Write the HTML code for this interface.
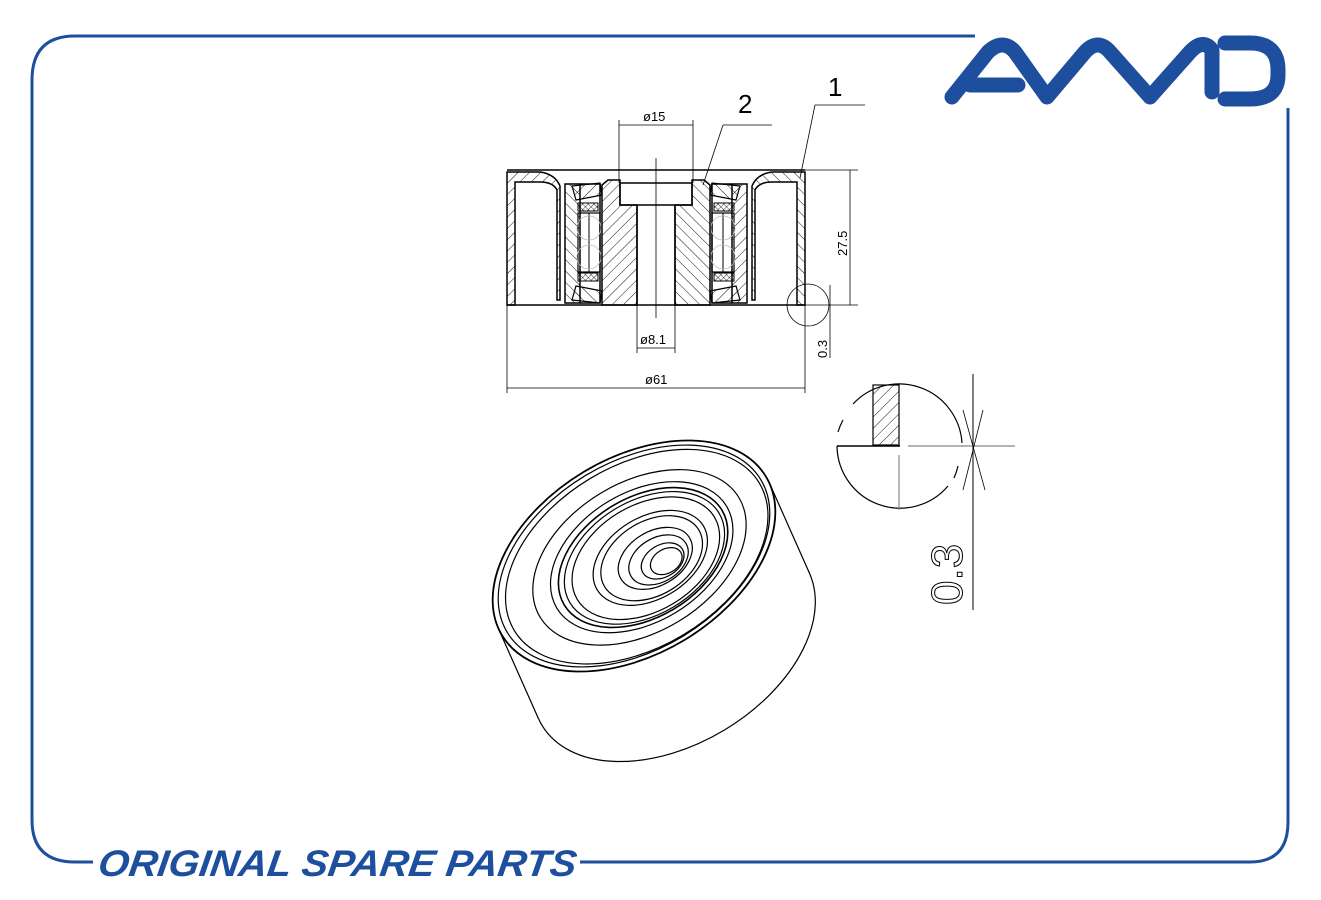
<!DOCTYPE html>
<html><head><meta charset="utf-8"><style>
html,body{margin:0;padding:0;background:#fff;}
svg{display:block;}
</style></head><body>
<svg width="1321" height="900" viewBox="0 0 1321 900" xmlns="http://www.w3.org/2000/svg">
<defs>
<pattern id="h1" patternUnits="userSpaceOnUse" width="8" height="8" patternTransform="rotate(45)"><line x1="0" y1="0" x2="0" y2="8" stroke="#000" stroke-width="0.9"/></pattern>
<pattern id="h2" patternUnits="userSpaceOnUse" width="8" height="8" patternTransform="rotate(-45)"><line x1="0" y1="0" x2="0" y2="8" stroke="#000" stroke-width="0.9"/></pattern>
<pattern id="hx" patternUnits="userSpaceOnUse" width="4" height="4" patternTransform="rotate(45)"><path d="M0 0V4M0 0H4" stroke="#000" stroke-width="0.8"/></pattern>
<g id="half">
  <path d="M507 172 H540 Q555 174 560 186 V300 H557 V190 Q553 182 540 182 H515 V305 H507 Z" fill="url(#h1)" stroke="#000" stroke-width="1.5"/>
  <path d="M565 184 H580 V303 H565 Z" fill="url(#h2)" stroke="#000" stroke-width="1.5"/>
  <path d="M580 184 H600 V303 H580" fill="none" stroke="#000" stroke-width="1.5"/>
  <path d="M572 186 L600 183 L602 195 L576 200 Z" fill="url(#h1)" stroke="#000" stroke-width="1.2"/>
  <path d="M572 300 L600 303 L602 291 L576 286 Z" fill="url(#h2)" stroke="#000" stroke-width="1.2"/>
  <rect x="578" y="203" width="20" height="8" fill="url(#hx)" stroke="#000" stroke-width="1"/>
  <rect x="578" y="273" width="20" height="8" fill="url(#hx)" stroke="#000" stroke-width="1"/>
  <rect x="578" y="213" width="22" height="59" fill="none" stroke="#000" stroke-width="1.2"/>
  <line x1="589" y1="213" x2="589" y2="272" stroke="#000" stroke-width="1"/>
  <circle cx="589" cy="228" r="12" fill="none" stroke="#bbb" stroke-width="0.8"/>
  <circle cx="589" cy="257" r="12" fill="none" stroke="#bbb" stroke-width="0.8"/>
  <path d="M602 185 L608 180 H620 V205 H637 V305 H602 Z" fill="url(#h1)" stroke="#000" stroke-width="1.5"/>
</g>
</defs>

<g fill="none" stroke="#1d4f9e" stroke-width="3">
  <path d="M975 36 H75 Q32 36 32 80 V820 Q32 862 75 862 H93"/>
  <path d="M580 862 H1250 Q1288 862 1288 822 V108"/>
</g>
<g fill="none" stroke="#1d4f9e" stroke-width="15" stroke-linecap="round" stroke-linejoin="round">
  <path d="M952 97 L988 52 Q1003 38 1015 52 L1047 97 L1085 52 Q1098 38 1110 52 L1150 97 L1190 52 Q1203 38 1212 50 V92"/>
  <path d="M970 85 H1018"/>
  <path d="M1225 43 H1250 Q1278 43 1278 70 V75 Q1278 99 1250 99 H1225"/>
</g>
<text x="100" y="876" font-family="Liberation Sans, sans-serif" font-size="37" font-weight="bold" font-style="italic" fill="#1d4f9e" textLength="478" lengthAdjust="spacingAndGlyphs" transform="skewX(-8) translate(120,0)">ORIGINAL SPARE PARTS</text>

<use href="#half"/>
<use href="#half" transform="translate(1312,0) scale(-1,1)"/>
<g fill="none" stroke="#000" stroke-width="1.5">
  <line x1="507" y1="170" x2="805" y2="170"/>
  <line x1="507" y1="305" x2="805" y2="305"/>
  <path d="M620 183 H692 V205 H620 Z"/>
  <line x1="637" y1="205" x2="637" y2="305"/>
  <line x1="675" y1="205" x2="675" y2="305"/>
</g>
<g stroke="#000" stroke-width="0.8" fill="none">
  <line x1="656" y1="158" x2="656" y2="318"/>
  <line x1="619" y1="120" x2="619" y2="183"/><line x1="693" y1="120" x2="693" y2="183"/>
  <line x1="619" y1="125" x2="693" y2="125"/>
  <line x1="637" y1="305" x2="637" y2="353"/><line x1="675" y1="305" x2="675" y2="353"/>
  <line x1="637" y1="348" x2="675" y2="348"/>
  <line x1="507" y1="305" x2="507" y2="393"/><line x1="805" y1="305" x2="805" y2="393"/>
  <line x1="507" y1="388" x2="805" y2="388"/>
  <line x1="805" y1="170" x2="858" y2="170"/><line x1="805" y1="305" x2="858" y2="305"/>
  <line x1="850" y1="170" x2="850" y2="305"/>
  <line x1="830" y1="285" x2="830" y2="358"/>
  <line x1="703" y1="185" x2="723" y2="125"/><line x1="723" y1="125" x2="772" y2="125"/>
  <line x1="800" y1="178" x2="815" y2="105"/><line x1="815" y1="105" x2="865" y2="105"/>
  <circle cx="808" cy="305" r="21"/>
</g>
<g font-family="Liberation Sans, sans-serif" font-size="13" fill="#000">
  <text x="643" y="121">ø15</text>
  <text x="640" y="344">ø8.1</text>
  <text x="645" y="384">ø61</text>
  <text transform="translate(847,256) rotate(-90)">27.5</text>
  <text transform="translate(827,358) rotate(-90)">0.3</text>
  <text x="738" y="113" font-size="26" font-weight="300">2</text>
  <text x="828" y="96" font-size="26" font-weight="300">1</text>
</g>

<g fill="none" stroke="#000" stroke-width="1.2">
  <path d="M853 404 A63 63 0 0 1 962 443"/>
  <path d="M837 446 A63 63 0 0 0 948 486"/>
  <path d="M843 420 A63 63 0 0 0 838 432"/>
  <path d="M958 466 A63 63 0 0 1 954 478"/>
  <rect x="873" y="385" width="26" height="60" fill="url(#h1)"/>
  <line x1="837" y1="446" x2="900" y2="446" stroke-width="1.6"/>
  <line x1="908" y1="446" x2="1015" y2="446" stroke="#888"/>
  <line x1="899" y1="455" x2="899" y2="510" stroke="#888"/>
  <line x1="973" y1="374" x2="973" y2="610" stroke-width="1"/>
  <path d="M963 410 L985 490 M983 410 L963 490" stroke-width="0.8"/>
</g>
<text transform="translate(962,605) rotate(-90)" font-family="Liberation Sans, sans-serif" font-size="44" font-weight="200" fill="none" stroke="#000" stroke-width="1">0.3</text>

<!-- 3D view -->
<g fill="none" stroke="#000" stroke-width="1.2">
  <ellipse transform="translate(674,646) rotate(-31)" rx="154" ry="98"/>
  <polygon points="498.4,628.5 538.4,718.5 809.6,573.5 769.6,483.5" fill="#fff" stroke="none"/>
  <line x1="498.4" y1="628.5" x2="538.4" y2="718.5"/>
  <line x1="769.6" y1="483.5" x2="809.6" y2="573.5"/>
  <g transform="translate(634,556) rotate(-31)">
    <ellipse rx="154" ry="98" stroke-width="1.8" fill="#fff"/>
    <ellipse rx="148" ry="94"/>
    <ellipse rx="143" ry="91" cx="2" cy="2"/>
    <ellipse rx="116" ry="75" cx="4" cy="4"/>
    <ellipse rx="99" ry="65" cx="6" cy="5"/>
    <ellipse rx="92" ry="60" cx="7" cy="6" stroke-width="1.6"/>
    <ellipse rx="87" ry="57" cx="8" cy="7"/>
    <ellipse rx="80" ry="53" cx="9" cy="8"/>
    <ellipse rx="62" ry="41" cx="13" cy="10"/>
    <ellipse rx="55" ry="37" cx="14" cy="11"/>
    <ellipse rx="40" ry="27" cx="17" cy="13"/>
    <ellipse rx="32" ry="22" cx="19" cy="16"/>
    <ellipse rx="23" ry="16" cx="22" cy="19"/>
    <ellipse rx="17" ry="12" cx="25" cy="21"/>
  </g>
</g>
</svg>
</body></html>
